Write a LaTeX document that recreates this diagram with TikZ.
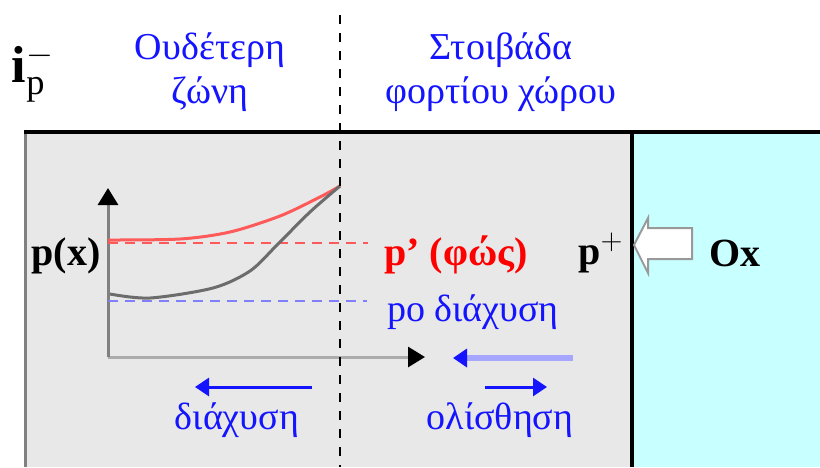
\documentclass[tikz,border=0pt]{standalone}
\usepackage{fontspec}
\setmainfont{Liberation Serif}
\usetikzlibrary{arrows.meta, positioning}
\definecolor{zonegray}{RGB}{232,232,232}
\definecolor{oxcyan}{RGB}{200,255,255}
\definecolor{txtblue}{RGB}{20,20,255}
\definecolor{curvered}{RGB}{255,90,90}
\tikzset{
  greek/.style={text=txtblue, font=\fontsize{19}{22}\selectfont, inner sep=0pt, align=center},
  bold/.style={font=\fontsize{20}{22}\selectfont\bfseries, inner sep=0pt},
  flowarrow/.style={txtblue, line width=1.5pt, -{Triangle[length=7pt,width=9pt]}},
  axisarrow/.style={line width=1.5pt, -{Triangle[length=8.5pt,width=10pt,black]}}
}
\begin{document}
\begin{tikzpicture}[x=0.5pt, y=-0.5pt]
\useasboundingbox (0,0) rectangle (820,467);
% Περιοχές: ουδέτερη ζώνη / οξείδιο
\fill[zonegray] (25,132) rectangle (632,467);
\fill[oxcyan] (632,132) rectangle (820,467);
\draw[gray, line width=1.5pt] (25.5,132) -- (25.5,467);
\draw[black, line width=2pt] (632,132) -- (632,467);
\draw[black, line width=2pt] (24,132) -- (820,132);
% Επικεφαλίδες
\node (ipm) at (33,73) {\fontsize{26}{28}\selectfont$\mathbf{i}_{\mathrm{p}}^{-}$};
\node[greek] (neutral) at (210,72) {Ουδέτερη\\ζώνη};
\node[greek] (spacecharge) at (501,72) {Στοιβάδα\\φορτίου χώρου};
% Άξονες
\coordinate (origin) at (108,357);
\coordinate (ytop) at (108,188);
\coordinate (xend) at (425,357);
\draw[axisarrow, gray!65] (origin) -- (xend);
\draw[axisarrow, gray] (origin) -- (ytop);
% Συγκεντρώσεις
\draw[curvered, line width=1.3pt, dash pattern=on 5pt off 3.5pt] (108,243) -- (368,243);
\draw[blue!50, line width=1.3pt, dash pattern=on 5pt off 3.5pt] (108,301) -- (367,301);
\draw[curvered, line width=1.5pt] plot[smooth] coordinates {(108,240) (180,239) (230,232) (280,216) (320,197) (340,186)};
\draw[gray!85!black, line width=1.5pt] plot[smooth] coordinates {(110,294) (150,298) (213,288) (250,271) (277,245) (310,212) (340,186)};
% Όριο ζώνης
\draw[black, line width=0.8pt, dash pattern=on 4.5pt off 4.5pt] (340,15) -- (340,467);
% Ετικέτες
\node[bold] (px) at (66,256) {p(x)};
\node[bold, text=red] (pphoto) at (456,255) {p' (φώς)};
\node[bold] (pplus) at (601,253) {p$^{+}$};
\node[bold] (ox) at (735,253) {Ox};
\node[greek] (pzero) at (473,312) {po διάχυση};
\node[greek] (diffl) at (237,420) {διάχυση};
\node[greek] (drift) at (500,420) {ολίσθηση};
% Βέλη ροής
\coordinate (lfrom) at (312,387);
\coordinate (lto) at (195,387);
\coordinate (rfrom) at (485,387);
\coordinate (rto) at (547,387);
\coordinate (mfrom) at (573,358);
\coordinate (mto) at (453,358);
\draw[flowarrow] (lfrom) -- (lto);
\draw[flowarrow] (rfrom) -- (rto);
\draw[blue!35, line width=3pt, -{Triangle[length=7pt,width=9pt,txtblue]}] (mfrom) -- (mto);
% Βέλος φωτός
\draw[gray!80, line width=1pt, fill=white] (692,228) -- (648,228) -- (648,218) -- (634,245) -- (648,273) -- (648,259) -- (692,259) -- cycle;
\end{tikzpicture}
\end{document}
